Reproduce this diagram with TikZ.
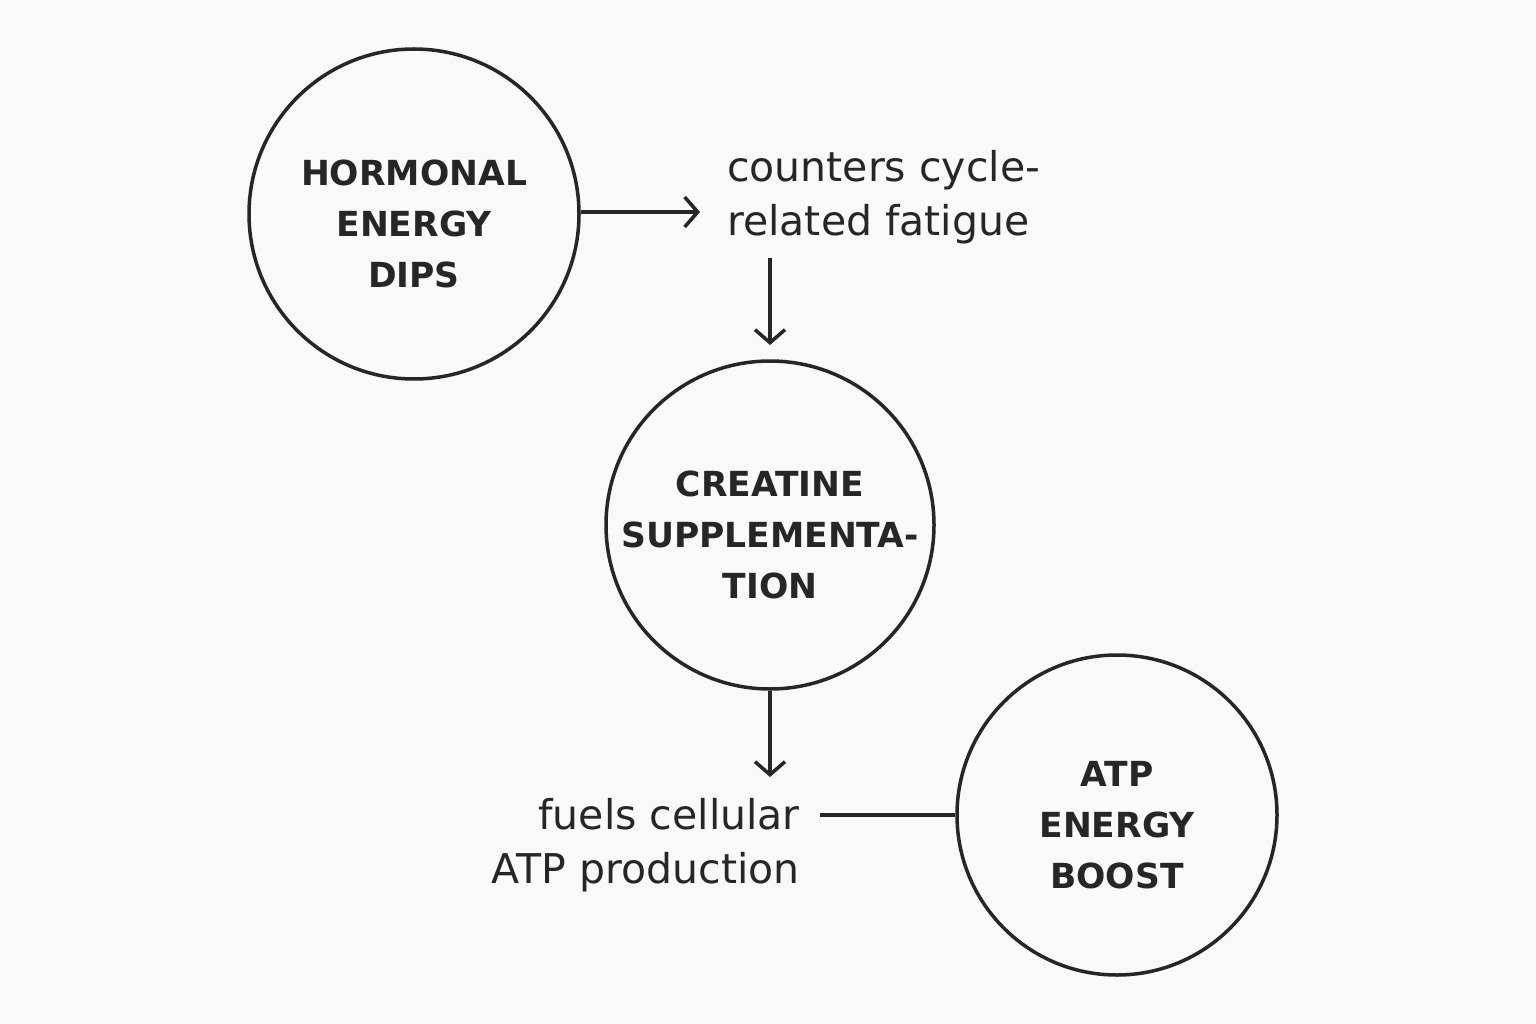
\documentclass[tikz,border=0pt]{standalone}
\usepackage{fontspec}
\setmainfont{DejaVu Sans}
\usetikzlibrary{arrows.meta}
\begin{document}
\begin{tikzpicture}[x=1pt,y=-1pt,
  circ/.style={draw=black!85,line width=3.5pt,circle,inner sep=0pt},
  ctext/.style={align=center,font=\fontsize{34.5}{51}\selectfont\bfseries,text=black!85,inner sep=0pt,yshift=-10pt},
  lbl/.style={font=\fontsize{41}{54}\selectfont,text=black!85,inner sep=0pt},
  conn/.style={draw=black!85,line width=3.5pt},
  arr/.style={conn,-{Straight Barb[length=13pt,width=30pt,line width=3.5pt]}}]
\fill[white!97!yellow!50!gray!10] (0,0) rectangle (1536,1024);
\useasboundingbox (0,0) rectangle (1536,1024);
\node[circ,minimum size=330pt] (c1) at (414,214) {};
\node[circ,minimum size=328pt] (c2) at (770,525) {};
\node[circ,minimum size=320pt] (c3) at (1117,815) {};
\node[ctext] (t1) at (c1) {HORMONAL\\ENERGY\\DIPS};
\node[ctext] (t2) at (c2) {CREATINE\\SUPPLEMENTA-\\TION};
\node[ctext] (t3) at (c3) {ATP\\ENERGY\\BOOST};
\node[lbl,align=left,anchor=west] (l1) at (727,197) {counters cycle-\\related fatigue};
\node[lbl,align=right,anchor=east] (l2) at (800,845) {fuels cellular\\ATP production};
\coordinate (a1) at (700,212);
\coordinate (b1) at (770,258);
\coordinate (b2) at (770,345);
\coordinate (d1) at (770,777);
\coordinate (e1) at (820,815);
\draw[arr] (c1.east |- a1) -- (a1);
\draw[arr] (b1) -- (b2);
\draw[arr] (c2.south) -- (d1);
\draw[conn] (e1) -- (c3.west);
\end{tikzpicture}
\end{document}
